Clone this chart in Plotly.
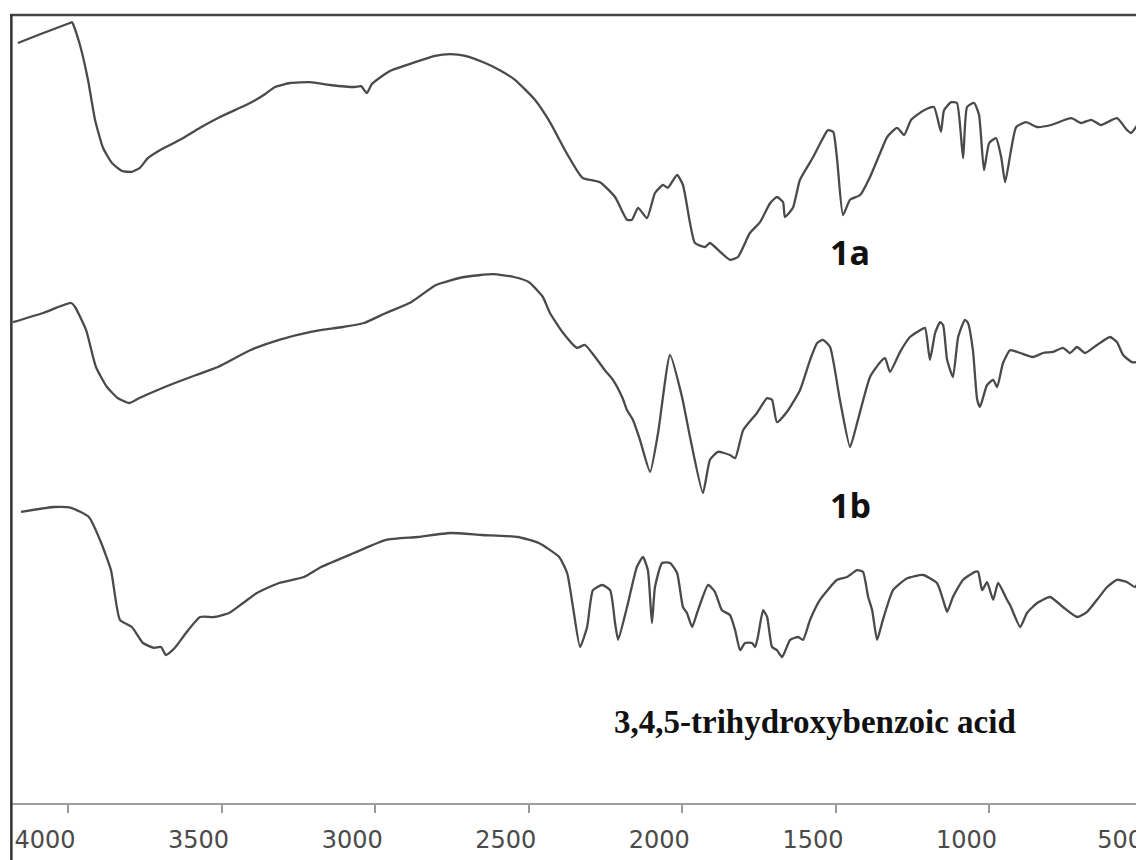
import plotly.graph_objects as go

# Wavenumber (cm-1) and relative transmittance (offset, a.u.) for each spectrum
wn_1a = [4163, 4091, 3994, 3987, 3961, 3935, 3912, 3886, 3857, 3824, 3792, 3766, 3740, 3701, 3635,
         3570, 3505, 3440, 3407, 3359, 3326, 3277, 3212, 3147, 3066, 3046, 3027, 3010, 2952, 2870,
         2805, 2756, 2707, 2642, 2594, 2545, 2480, 2431, 2382, 2333, 2323, 2268, 2219, 2180, 2164,
         2144, 2115, 2089, 2063, 2047, 2017, 1998, 1975, 1959, 1926, 1910, 1877, 1845, 1819, 1780,
         1747, 1714, 1692, 1672, 1666, 1640, 1617, 1574, 1545, 1526, 1509, 1496, 1477, 1454, 1421,
         1389, 1356, 1333, 1301, 1278, 1255, 1213, 1181, 1158, 1148, 1125, 1106, 1086, 1073, 1050,
         1034, 1018, 1001, 979, 962, 949, 930, 913, 881, 845, 800, 734, 702, 669, 637, 585, 552,
         539, 507, 497]
t_1a = [95.0, 96.1, 97.5, 97.6, 94.75, 90.4, 85.4, 81.9, 80.0, 79.0, 78.9, 79.4, 80.6, 81.6, 82.9,
        84.4, 85.75, 86.9, 87.5, 88.6, 89.5, 90.0, 90.1, 89.75, 89.5, 89.6, 88.75, 89.9, 91.5, 92.6,
        93.4, 93.6, 93.4, 92.5, 91.6, 90.4, 87.9, 85.1, 81.6, 78.5, 78.1, 77.6, 75.75, 72.9, 72.9,
        74.4, 73.1, 76.25, 77.25, 76.9, 78.5, 77.25, 72.5, 70.0, 69.5, 70.0, 68.9, 67.9, 68.25, 71.25,
        72.6, 75.0, 75.75, 75.1, 73.25, 74.4, 77.9, 80.75, 82.9, 84.1, 83.9, 80.4, 73.5, 75.4, 76.0,
        78.25, 81.25, 83.25, 84.4, 83.5, 85.4, 86.6, 87.0, 83.9, 86.6, 87.6, 87.5, 80.6, 87.0, 87.5,
        86.0, 79.1, 82.5, 83.1, 80.75, 77.6, 81.6, 84.5, 85.1, 84.5, 84.75, 85.6, 85.0, 85.4, 84.75,
        85.6, 84.1, 83.75, 85.4, 86.0]

wn_1b = [4179, 4081, 3990, 3977, 3941, 3909, 3873, 3837, 3801, 3769, 3710, 3652, 3583, 3512, 3407,
         3313, 3209, 3105, 3036, 2965, 2883, 2802, 2711, 2616, 2548, 2499, 2454, 2431, 2388, 2343,
         2317, 2284, 2252, 2226, 2196, 2180, 2161, 2138, 2105, 2079, 2040, 2001, 1975, 1933, 1910,
         1884, 1845, 1828, 1802, 1757, 1724, 1708, 1692, 1659, 1617, 1584, 1561, 1542, 1519, 1487,
         1454, 1431, 1389, 1356, 1340, 1324, 1291, 1259, 1226, 1210, 1194, 1177, 1161, 1151, 1138,
         1119, 1102, 1080, 1070, 1054, 1040, 1031, 1008, 988, 975, 956, 933, 900, 858, 826, 793,
         761, 738, 715, 689, 650, 608, 585, 565, 536, 520]
t_1b = [60.1, 61.25, 62.5, 62.0, 59.1, 54.5, 52.0, 50.6, 50.0, 50.6, 51.6, 52.5, 53.5, 54.5, 56.6,
        57.9, 58.9, 59.5, 60.0, 61.25, 62.6, 64.75, 65.75, 66.1, 65.75, 65.1, 63.25, 61.25, 58.75, 56.9,
        57.25, 55.75, 54.1, 52.9, 50.75, 49.1, 47.9, 45.4, 41.4, 46.25, 56.0, 50.75, 45.75, 38.75, 42.9,
        43.9, 43.5, 43.1, 46.6, 48.75, 50.6, 50.4, 47.6, 48.9, 51.6, 55.4, 57.5, 57.9, 57.0, 50.4,
        44.5, 47.5, 53.25, 55.1, 55.6, 53.9, 56.4, 58.25, 59.1, 59.4, 55.4, 58.75, 60.1, 59.75, 55.4,
        53.25, 58.25, 60.4, 60.0, 56.6, 50.4, 49.5, 52.25, 52.9, 52.0, 55.0, 56.6, 56.25, 55.75, 56.25, 56.4,
        56.9, 56.25, 57.0, 56.25, 57.25, 58.25, 57.6, 56.0, 55.1, 55.1]

wn_acid = [4153, 4046, 3990, 3932, 3896, 3860, 3831, 3792, 3756, 3720, 3697, 3681, 3652, 3616, 3570,
           3525, 3476, 3430, 3385, 3313, 3232, 3176, 3069, 2965, 2861, 2756, 2652, 2535, 2467, 2401,
           2375, 2356, 2333, 2310, 2291, 2261, 2235, 2219, 2209, 2180, 2148, 2128, 2112, 2099, 2089,
           2066, 2040, 2017, 1998, 1985, 1968, 1952, 1916, 1894, 1871, 1845, 1828, 1812, 1796, 1773,
           1763, 1754, 1737, 1724, 1708, 1692, 1675, 1649, 1623, 1607, 1584, 1552, 1496, 1464, 1431,
           1412, 1395, 1382, 1366, 1347, 1314, 1268, 1216, 1171, 1151, 1138, 1119, 1086, 1047, 1037,
           1024, 1008, 988, 972, 943, 933, 900, 878, 845, 803, 761, 715, 682, 650, 617, 585, 552,
           526, 510, 500]
t_acid = [36.4, 37.0, 36.9, 35.75, 32.9, 29.1, 22.9, 22.0, 20.0, 19.4, 19.5, 18.5, 19.4, 21.25, 23.25,
          23.25, 23.75, 25.0, 26.25, 27.5, 28.25, 29.5, 31.25, 32.9, 33.25, 33.75, 33.5, 33.25, 32.5, 30.75,
          28.75, 24.5, 19.5, 22.0, 26.6, 27.25, 26.6, 22.5, 20.4, 24.5, 29.5, 30.75, 29.1, 22.5, 27.0,
          30.0, 30.0, 28.75, 24.5, 23.75, 22.0, 23.75, 27.25, 26.4, 24.1, 23.5, 21.6, 19.1, 20.0, 20.0,
          19.5, 20.75, 24.1, 23.25, 19.5, 19.1, 18.25, 20.4, 20.75, 20.4, 22.9, 25.4, 27.9, 28.25, 29.1,
          28.9, 25.75, 24.1, 20.4, 22.9, 26.6, 28.1, 28.5, 27.5, 25.4, 23.9, 25.75, 27.9, 28.9, 28.9,
          26.6, 27.6, 25.4, 27.5, 25.4, 24.75, 22.0, 23.75, 25.0, 25.75, 24.5, 23.25, 23.9, 25.4, 27.0, 27.9, 27.6,
          27.0, 28.25, 30.0]

tick_vals = [4000, 3500, 3000, 2500, 2000, 1500, 1000, 500]
tick_text = ["4000", "3500", "3000", "2500", "2000", "1500", "1000", "500"]

labels = ["1a", "1b", "3,4,5-trihydroxybenzoic acid"]
label_wn = [1454, 1454, 1568]
label_t = [68.9, 37.25, 10.1]

fig = go.Figure()
for xs, ys in [(wn_1a, t_1a), (wn_1b, t_1b), (wn_acid, t_acid)]:
    fig.add_trace(go.Scatter(x=xs, y=ys, mode="lines",
                             line=dict(color="#4a4a4a", width=2.3, shape="spline", smoothing=0.5),
                             showlegend=False, hoverinfo="skip"))

fig.add_annotation(x=label_wn[0], y=label_t[0], text="<b>" + labels[0] + "</b>", showarrow=False,
                   font=dict(family="Open Sans", size=34, color="#111111"))
fig.add_annotation(x=label_wn[1], y=label_t[1], text="<b>" + labels[1] + "</b>", showarrow=False,
                   font=dict(family="Open Sans", size=34, color="#111111"))
fig.add_annotation(x=label_wn[2], y=label_t[2], text="<b>" + labels[2] + "</b>", showarrow=False,
                   font=dict(family="Liberation Serif", size=33, color="#111111"))

# frame lines (top and left)
fig.add_shape(type="line", xref="paper", yref="paper", x0=0, x1=1.01, y0=1, y1=1,
              line=dict(color="#444444", width=2.5))
fig.add_shape(type="line", xref="paper", yref="paper", x0=0.0012, x1=0.0012, y0=-0.09, y1=1,
              line=dict(color="#333333", width=2.5))

fig.update_layout(
    width=1136, height=852,
    margin=dict(l=2, r=0, t=7, b=57, autoexpand=False),
    paper_bgcolor="white", plot_bgcolor="white",
    xaxis=dict(range=[4188.8, 497], tickvals=tick_vals, ticktext=tick_text,
               showgrid=False, zeroline=False, showline=True, linecolor="#a0a0a0", linewidth=2,
               ticks="outside", ticklen=8, tickwidth=2, tickcolor="#999999",
               ticklabelshift=23, ticklabelstandoff=6, ticklabeloverflow="allow",
               automargin=False,
               tickfont=dict(family="DejaVu Sans", size=24, color="#4a4a4a")),
    yaxis=dict(range=[0, 98.5], visible=False, showgrid=False, zeroline=False),
)

fig.write_html("out.html")
